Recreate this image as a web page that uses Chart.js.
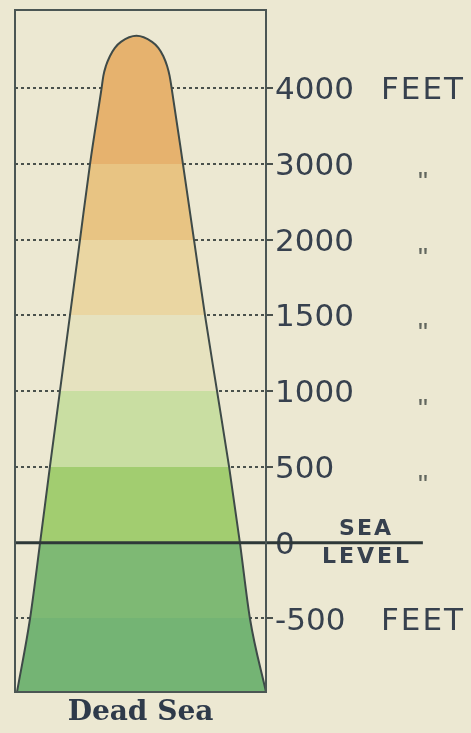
<!DOCTYPE html>
<html>
<head>
<meta charset="utf-8">
<script src="https://cdn.jsdelivr.net/npm/chart.js@4"></script>
<style>
  body { margin: 0; background: #ece8d2; }
  #wrap { width: 471px; height: 733px; }
</style>
</head>
<body>
<div id="wrap"><canvas id="reliefChart"></canvas></div>
<script>
// Height levels, bottom to top (evenly spaced on the key)
const levelValues = [-500, 0, 500, 1000, 1500, 2000, 3000, 4000];
const unitLabels = ['FEET', '', '"', '"', '"', '"', '"', 'FEET'];
// band colours: below -500, -500..0, 0..500, ... , above 3000
const bandColors = ['#74b474', '#7eb974', '#a2cd70', '#c9dea2', '#e6e2bf', '#ead6a2', '#e8c483', '#e6b26e'];

// Mountain profile (x = % of box width, y = level index)
const profileX = [0.8, 6.0, 10.0, 13.9, 17.9, 21.9, 25.9, 29.9, 34.5, 35.2, 36.2, 37.8, 39.8, 42.2, 48.4,
                  54.6, 57.1, 59.1, 60.6, 61.6, 62.4, 66.9, 71.3, 75.7, 80.5, 85.3, 89.6, 93.6, 100];
const profileY = [0.03, 1, 2, 3, 4, 5, 6, 7, 8, 8.16, 8.29, 8.42, 8.53, 8.61, 8.69,
                  8.61, 8.53, 8.42, 8.29, 8.16, 8, 7, 6, 5, 4, 3, 2, 1, 0.03];

const seaLevelEnd = 162.5;
const bottomName = 'Dead Sea';

const ink = '#37414e';

// fill of the mountain, hard colour steps at each level
function bandGradient(context) {
    const chart = context.chart;
    const area = chart.chartArea;
    if (!area) return null;
    const y = chart.scales.y;
    const g = chart.ctx.createLinearGradient(0, area.bottom, 0, area.top);
    const h = area.bottom - area.top;
    let prev = 0;
    bandColors.forEach((c, i) => {
        let next = i < bandColors.length - 1 ? (area.bottom - y.getPixelForValue(i + 1)) / h : 1;
        g.addColorStop(prev, c);
        g.addColorStop(next, c);
        prev = next;
    });
    return g;
}

const boxAndLabels = {
    id: 'boxAndLabels',
    afterDraw(chart) {
        const ctx = chart.ctx;
        const a = chart.chartArea;
        const y = chart.scales.y;
        ctx.save();
        ctx.strokeStyle = '#4b5654';
        ctx.lineWidth = 2;
        ctx.strokeRect(a.left, a.top, a.right - a.left, a.bottom - a.top);

        ctx.textAlign = 'center';
        unitLabels.forEach((u, i) => {
            const py = y.getPixelForValue(i + 1);
            if (u === 'FEET') {
                ctx.fillStyle = ink;
                ctx.font = '31px "DejaVu Sans"';
                ctx.letterSpacing = '2px';
                ctx.textBaseline = 'middle';
                ctx.fillText(u, 423, py + 3);
            } else if (u) {
                ctx.fillStyle = '#62675f';
                ctx.font = '28px "Liberation Sans"';
                ctx.letterSpacing = '0px';
                ctx.textBaseline = 'alphabetic';
                ctx.fillText(u, 423, py + 27);
            }
        });

        // SEA / LEVEL around the sea level line
        const sy = y.getPixelForValue(2);
        ctx.fillStyle = ink;
        ctx.font = 'bold 22px "DejaVu Sans"';
        ctx.letterSpacing = '2px';
        ctx.textBaseline = 'middle';
        ctx.fillText('SEA', 366, sy - 13);
        ctx.letterSpacing = '3px';
        ctx.fillText('LEVEL', 367, sy + 15);
        ctx.restore();
    }
};

const ctx = document.getElementById('reliefChart').getContext('2d');
new Chart(ctx, {
    type: 'line',
    data: {
        datasets: [{
            label: 'Sea level',
            data: [{ x: 0, y: 2 }, { x: seaLevelEnd, y: 2 }],
            borderColor: '#2e3838',
            borderWidth: 3,
            pointRadius: 0,
            fill: false,
            clip: false
        }, {
            label: 'Relief',
            data: profileX.map((x, i) => ({ x: x, y: profileY[i] })),
            borderColor: '#3e4a48',
            borderWidth: 2,
            pointRadius: 0,
            cubicInterpolationMode: 'monotone',
            fill: 'start',
            backgroundColor: bandGradient
        }]
    },
    options: {
        responsive: true,
        maintainAspectRatio: false,
        animation: false,
        layout: { padding: { left: 15, top: 10, right: 0, bottom: 0 } },
        plugins: {
            legend: { display: false },
            tooltip: { enabled: false }
        },
        scales: {
            x: {
                type: 'linear',
                min: 0,
                max: 100,
                grid: { display: false },
                border: { display: false },
                ticks: { display: false },
                title: {
                    display: true,
                    text: bottomName,
                    color: '#2e3a4a',
                    font: { family: '"DejaVu Serif"', size: 28, weight: 'bold' },
                    padding: { top: 0, bottom: 3 }
                },
                afterFit(scale) { scale.height = 41; }
            },
            y: {
                type: 'linear',
                position: 'right',
                min: 0.03,
                max: 9.03,
                z: 1,
                afterBuildTicks(scale) {
                    scale.ticks = levelValues.map((v, i) => ({ value: i + 1 }));
                },
                afterFit(scale) {
                    scale.width = 205;
                    scale.paddingTop = 0;
                    scale.paddingBottom = 0;
                },
                grid: {
                    color: '#4a514c',
                    lineWidth: 2,
                    tickLength: 7,
                    tickColor: '#4a514c',
                    tickBorderDash: [],
                    tickWidth: 2
                },
                border: { display: false, dash: [3, 3] },
                ticks: {
                    autoSkip: false,
                    padding: 2,
                    labelOffset: 3,
                    color: ink,
                    font: { family: '"DejaVu Sans"', size: 31 },
                    callback: (value, index) => String(levelValues[index])
                }
            }
        }
    },
    plugins: [boxAndLabels]
});
</script>
</body>
</html>
